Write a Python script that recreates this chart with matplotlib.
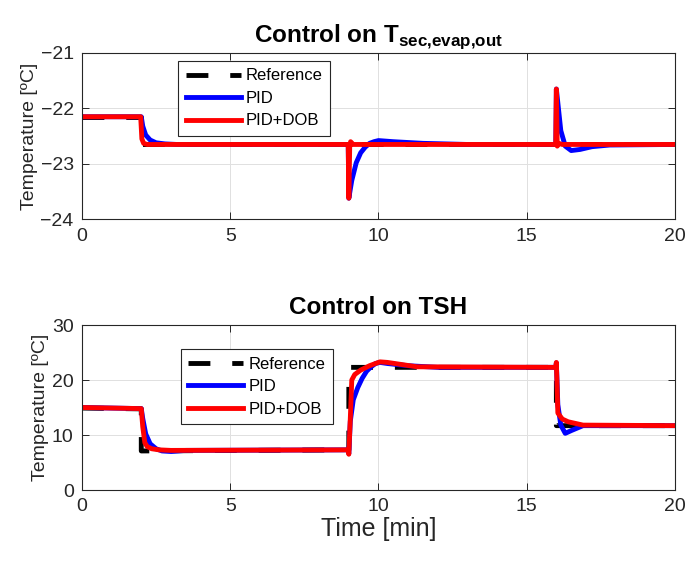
import matplotlib
matplotlib.use('Agg')
import matplotlib.pyplot as plt

plt.rcParams['font.family'] = ['Liberation Sans', 'DejaVu Sans']
plt.rcParams['mathtext.fontset'] = 'custom'
plt.rcParams['mathtext.rm'] = 'Liberation Sans'
plt.rcParams['mathtext.bf'] = 'Liberation Sans:bold'

# --- top panel: T_sec,evap,out ---
t_ref1 = [0, 2.0, 2.0, 20]
y_ref1 = [-22.15, -22.15, -22.65, -22.65]

t_pid1 = [0, 2.0, 2.05, 2.15, 2.3, 2.5, 2.8, 3.2, 8.98, 9.0, 9.1, 9.25, 9.4, 9.55, 9.7, 9.85, 10.0,
          10.5, 11.5, 13.0, 15.98, 16.0, 16.05, 16.15, 16.3, 16.5, 16.8, 17.2, 17.8, 20]
y_pid1 = [-22.15, -22.15, -22.32, -22.48, -22.57, -22.62, -22.64, -22.65, -22.65, -23.62, -23.3,
          -22.98, -22.8, -22.7, -22.63, -22.6, -22.58, -22.6, -22.63, -22.65, -22.65, -21.65,
          -21.9, -22.4, -22.68, -22.76, -22.74, -22.69, -22.66, -22.65]

t_dob1 = [0, 1.98, 2.02, 2.08, 2.2, 8.98, 9.0, 9.03, 9.06, 9.15, 15.98, 16.0, 16.03, 16.08, 16.2, 20]
y_dob1 = [-22.15, -22.15, -22.55, -22.63, -22.65, -22.65, -23.62, -22.7, -22.6, -22.65, -22.65,
          -21.65, -22.68, -22.63, -22.65, -22.65]

# --- bottom panel: TSH ---
t_ref2 = [0, 2.0, 2.0, 9.0, 9.0, 16.0, 16.0, 20]
y_ref2 = [14.9, 14.75, 7.1, 7.3, 22.3, 22.3, 11.7, 11.7]

t_pid2 = [0, 2.0, 2.05, 2.15, 2.3, 2.5, 2.7, 3.0, 3.5, 8.97, 9.0, 9.05, 9.15, 9.3, 9.45, 9.6, 9.75,
          9.9, 10.05, 10.3, 11.0, 12.0, 15.98, 16.0, 16.05, 16.15, 16.3, 16.5, 16.9, 20]
y_pid2 = [15.0, 14.8, 13.0, 10.2, 8.4, 7.5, 7.1, 7.0, 7.2, 7.3, 6.6, 12.5, 16.4, 18.6, 20.3, 21.6,
          22.4, 23.0, 23.2, 23.0, 22.6, 22.3, 22.3, 23.1, 15.5, 11.8, 10.3, 10.8, 11.7, 11.7]

t_dob2 = [0, 2.0, 2.05, 2.12, 2.2, 2.35, 2.6, 3.0, 8.97, 9.0, 9.05, 9.1, 9.2, 9.4, 9.7, 10.05, 10.3,
          10.8, 11.3, 15.98, 16.0, 16.05, 16.2, 16.4, 16.9, 20]
y_dob2 = [15.0, 14.8, 11.5, 8.6, 7.9, 7.5, 7.3, 7.2, 7.3, 6.5, 13.0, 20.0, 21.0, 21.8, 22.6, 23.3,
          23.2, 22.8, 22.4, 22.3, 23.2, 14.0, 12.9, 12.4, 11.8, 11.7]

fig = plt.figure(figsize=(6.9, 5.62), dpi=100)
ax1 = fig.add_axes([0.1188, 0.6098, 0.8594, 0.2959])
ax2 = fig.add_axes([0.1188, 0.1281, 0.8594, 0.2936])

lw = 3.5
for ax, (tr, yr, tp, yp, td, yd) in zip(
        [ax1, ax2],
        [(t_ref1, y_ref1, t_pid1, y_pid1, t_dob1, y_dob1),
         (t_ref2, y_ref2, t_pid2, y_pid2, t_dob2, y_dob2)]):
    ax.plot(tr, yr, color='black', lw=lw, dashes=(4.5, 4.5), label='Reference')
    ax.plot(tp, yp, color='blue', lw=lw, label='PID', solid_joinstyle='round')
    ax.plot(td, yd, color='red', lw=lw, label='PID+DOB', solid_joinstyle='round')
    ax.set_xlim(0, 20)
    ax.set_xticks([0, 5, 10, 15, 20])
    ax.grid(True, color='0.88', lw=0.7)
    ax.set_axisbelow(True)
    ax.tick_params(direction='in', top=True, right=True, length=5, width=0.7,
                   labelsize=14, colors='0.15', pad=6)
    for s in ax.spines.values():
        s.set_color('0.15')
        s.set_linewidth(0.8)
    ax.set_ylabel('Temperature [ºC]', fontsize=14, color='0.15', labelpad=2)

ax1.set_ylim(-24, -21)
ax1.set_yticks([-24, -23, -22, -21])
ax1.set_title(r'Control on T$_{\mathbf{sec{,}evap{,}out}}$', fontsize=17.5, fontweight='bold', pad=8)

ax2.set_ylim(0, 30)
ax2.set_yticks([0, 10, 20, 30])
ax2.set_title('Control on TSH', fontsize=17.5, fontweight='bold', pad=8)
ax2.set_xlabel('Time [min]', fontsize=18, color='0.15', labelpad=1)

for ax, anchor in [(ax1, (0.258, 0.8915)), (ax2, (0.2623, 0.379))]:
    leg = ax.legend(loc='upper left', bbox_to_anchor=anchor, bbox_transform=fig.transFigure,
                    fontsize=12, fancybox=False, framealpha=1, edgecolor='0.15',
                    handlelength=3.3, handletextpad=0.3, borderpad=0.45, labelspacing=0.45,
                    borderaxespad=0)
    leg.get_frame().set_linewidth(0.8)

fig.savefig('out.png', dpi=100)
